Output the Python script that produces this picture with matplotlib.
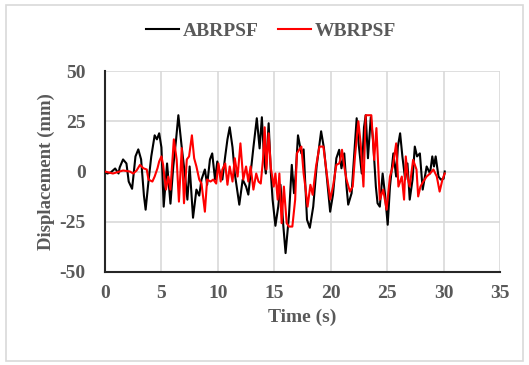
import matplotlib
matplotlib.use("Agg")
import matplotlib.pyplot as plt
from matplotlib.patches import Rectangle

# ABRPSF series (time s, displacement mm)
t_abr = [0, 0.2, 0.5, 0.9, 1.2, 1.3, 1.6, 1.9, 2.1, 2.4, 2.7, 2.95, 3.2, 3.45, 3.6, 3.85,
         4.1, 4.4, 4.6, 4.8, 5.0, 5.2, 5.5, 5.8, 6.05, 6.3, 6.5, 6.8, 7.1, 7.3, 7.5, 7.8,
         8.1, 8.35, 8.55, 8.85, 9.05, 9.3, 9.5, 9.75, 9.95, 10.2, 10.4, 10.65, 10.85, 11.05,
         11.3, 11.5, 11.9, 12.2, 12.5, 12.7, 12.9, 13.15, 13.45, 13.7, 13.9, 14.1, 14.25,
         14.5, 14.7, 14.85, 15.1, 15.35, 15.55, 15.8, 16.0, 16.3, 16.55, 16.75, 16.9, 17.1,
         17.4, 17.6, 17.9, 18.15, 18.45, 18.75, 19.15, 19.4, 19.65, 19.95, 20.2, 20.5,
         20.75, 20.95, 21.2, 21.4, 21.55, 21.85, 22.05, 22.3, 22.5, 22.75, 22.95, 23.1,
         23.3, 23.55, 23.75, 24.0, 24.15, 24.35, 24.6, 24.8, 25.05, 25.25, 25.55, 25.8,
         25.95, 26.15, 26.35, 26.6, 26.8, 27.0, 27.25, 27.45, 27.65, 27.9, 28.15, 28.5,
         28.8, 29.0, 29.15, 29.3, 29.55, 29.75, 30.0, 30.1]
d_abr = [0, -1, -0.5, 1.5, -1, 2, 6, 4, -5, -8.6, 7.5, 11, 6, -12, -19, -5,
         7.5, 18, 16, 19, 12, -17.5, 4, -16, 2.5, 16, 28, 12, -2.5, -14, 2.5, -23,
         -9, -12, -4, 1, -6.6, 6, 9, -4, 5, -1, -4, 7.5, 16, 22,
         12, -1, -16.5, -4, -7.5, -11.5, -1, 12, 26.5, 11.5, 27, 6, -1,
         24, -1, -14, -27, -17.5, -6.6, -27, -40.6, -22, 3.3, -10.8, -1, 18,
         9, 11, -24, -28, -17.5, 2.5, 20, 11.6, -2.5, -20, -11.6, 6.6,
         10.8, 1.6, 9, -7.5, -16.5, -10.8, 5.8, 26.5, 12.4, -1, 22, 28,
         6.6, 27, 15.8, -7.5, -15.8, -17.5, -1, -10.8, -26.5, -7.5, 9, -2.5,
         12.4, 19, 7.5, -4, 4, -14, -4, 12.4, 7.5, 9, -9, 2.5,
         -1, 7.5, 2.5, 7.5, -2.5, -4, -3.6, 0]

# WBRPSF series (time s, displacement mm)
t_wbr = [0, 0.7, 1.6, 2.2, 2.5, 2.8, 3.1, 3.4, 3.7, 3.85, 4.2, 4.4, 4.65, 4.8, 5.0,
         5.15, 5.4, 5.6, 5.8, 6.1, 6.35, 6.55, 6.8, 7.0, 7.25, 7.45, 7.7, 7.9, 8.1,
         8.35, 8.55, 8.85, 9.05, 9.35, 9.6, 9.85, 10.05, 10.25, 10.4, 10.65, 10.85,
         11.05, 11.3, 11.5, 11.75, 12.0, 12.25, 12.5, 12.7, 12.9, 13.15, 13.4, 13.6,
         13.8, 14.0, 14.15, 14.3, 14.5, 14.7, 14.95, 15.1, 15.3, 15.45, 15.65, 15.85,
         16.1, 16.3, 16.6, 16.85, 17.0, 17.2, 17.4, 17.6, 17.75, 17.95, 18.2, 18.4,
         18.7, 19.0, 19.35, 19.65, 19.95, 20.2, 20.5, 20.75, 20.85, 21.0, 21.2, 21.4,
         21.7, 21.95, 22.15, 22.45, 22.65, 22.9, 23.1, 23.6, 23.85, 24.05, 24.35,
         24.65, 24.95, 25.25, 25.5, 25.8, 26.0, 26.3, 26.5, 26.65, 26.85, 27.0, 27.3,
         27.6, 27.75, 27.95, 28.2, 28.5, 28.8, 29.1, 29.4, 29.65, 29.9, 30.1]
d_wbr = [0, -1, 0.5, 0, -1, 0.5, 3.3, 1.6, 1, -4, -5, -2.5, 1.6, 5, 7.5,
         3.3, -9, -2.5, -9, 16, 6, -15, 11.6, -15.8, 6, 7.5, 18, 6.6, 2.5,
         -4, -6, -20, -4, -5, -4, -6, 4, -5, 1, 4, -6.6,
         2.5, -5, 6.6, -2.5, 14, -4, 2.5, -5, 2.5, -9, -1, -5,
         -6, 6, 22, 1, 19, 1.6, -7.5, -1, -14, -1, -25.7, -7.5,
         -25.7, -27.4, -27.4, -14, 9, 10.8, 12.4, -1, -7.5, -17.5, -6.6, -11.6,
         2.5, 12.4, 12.4, -1, -14, -7.5, 3.3, 4, 5.8, 10.8, 2.5, -4,
         -10, -7.5, 7.5, 25, 14, -7.5, 28, 28, 5.8, 21.6, -14,
         -9, -19, -2.5, 2.5, 14, -7.5, -2.5, -14, 7.5, -4, -7.5, 5.8,
         1, -12.4, -7.5, -5, -2.5, -1, 1, -2.5, -10, -4, -1]

x_ticks = [0, 5, 10, 15, 20, 25, 30, 35]
y_ticks = [-50, -25, 0, 25, 50]

plt.rcParams['font.family'] = ['Liberation Serif', 'DejaVu Serif']
plt.rcParams['font.weight'] = 'bold'
plt.rcParams['axes.unicode_minus'] = False

fig = plt.figure(figsize=(5.29, 3.65), dpi=100)
fig.patches.append(Rectangle((6 / 529, 1 - 361 / 365), 517 / 529, 356 / 365,
                             transform=fig.transFigure, fill=False,
                             edgecolor='#d9d9d9', linewidth=1.2))

ax = fig.add_axes([105 / 529, 1 - 272 / 365, 395 / 529, 201 / 365])
ax.plot(t_abr, d_abr, color='black', lw=1.5, label='ABRPSF', zorder=3)
ax.plot(t_wbr, d_wbr, color='#ff0000', lw=1.5, label='WBRPSF', zorder=4)

ax.set_xlim(0, 35)
ax.set_ylim(-50, 50)
ax.set_xticks(x_ticks)
ax.set_yticks(y_ticks)
ax.grid(True, color='#d9d9d9', lw=1.2)
ax.set_axisbelow(True)
for s in ['top', 'right']:
    ax.spines[s].set_visible(False)
for s in ['left', 'bottom']:
    ax.spines[s].set_color('#262626')
    ax.spines[s].set_linewidth(1.5)
ax.tick_params(length=0, labelsize=14, colors='#595959')
ax.tick_params(axis='y', pad=14)
ax.tick_params(axis='x', pad=9)
for lab in ax.get_xticklabels() + ax.get_yticklabels():
    lab.set_fontweight('bold')

ax.set_xlabel('Time (s)', fontsize=14, fontweight='bold', color='#595959', labelpad=5)
ax.set_ylabel('Displacement (mm)', fontsize=13.5, fontweight='bold', color='#595959', labelpad=3)

leg = fig.legend(loc='center', bbox_to_anchor=(271 / 529, 1 - 31 / 365), ncol=2,
                 frameon=False, prop={'size': 14, 'weight': 'bold'},
                 handlelength=1.7, columnspacing=1.0, handletextpad=0.2)
for txt in leg.get_texts():
    txt.set_color('#595959')

fig.savefig('out.png', dpi=100)
